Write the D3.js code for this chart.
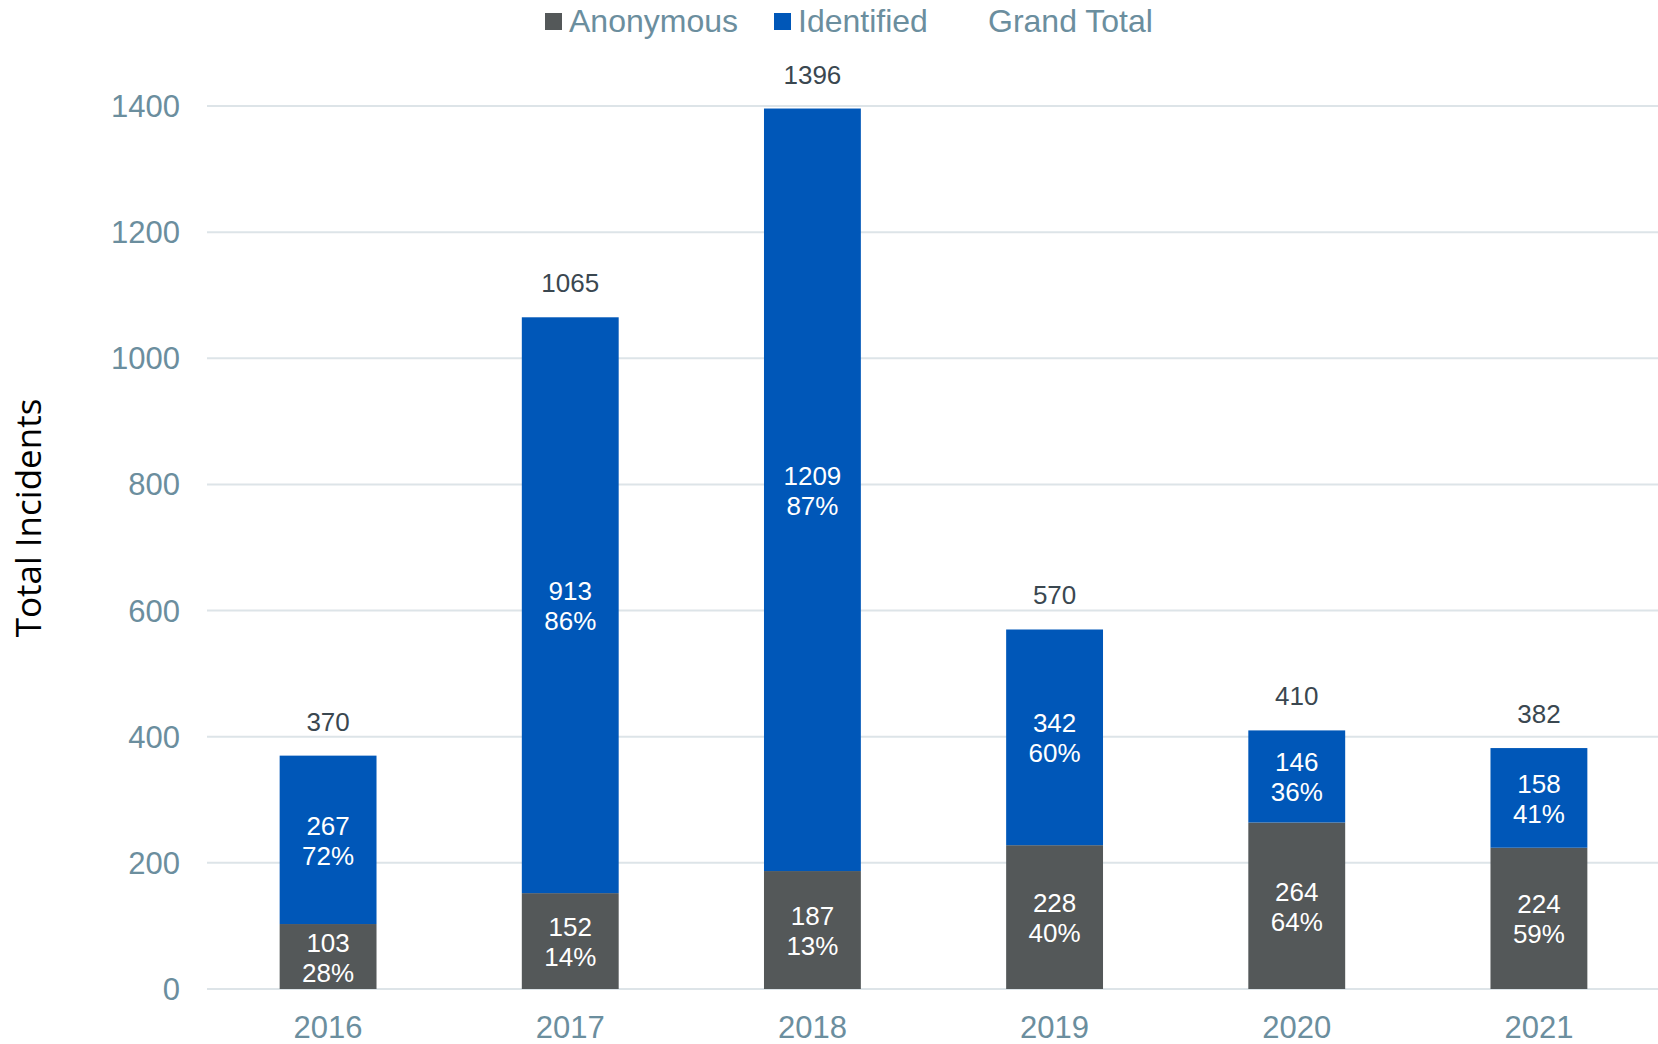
<!DOCTYPE html>
<html>
<head>
<meta charset="utf-8">
<script src="https://cdn.jsdelivr.net/npm/d3@7"></script>
<style>
  body { margin: 0; background: #fff; }
  svg { display: block; }
</style>
</head>
<body>
<div id="chart"></div>
<script>
// chart data
var years = ["2016", "2017", "2018", "2019", "2020", "2021"];
var anonymous = [103, 152, 187, 228, 264, 224];
var identified = [267, 913, 1209, 342, 146, 158];
var grandTotal = [370, 1065, 1396, 570, 410, 382];
var anonPct = ["28%", "14%", "13%", "40%", "64%", "59%"];
var identPct = ["72%", "86%", "87%", "60%", "36%", "41%"];
var yTicks = [0, 200, 400, 600, 800, 1000, 1200, 1400];

var grayFill = "#545859";
var blueFill = "#0057b8";
var axisText = "#6b8e9e";
var labelText = "#3a4750";
var gridColor = "#dde4e8";

const width = 1658, height = 1044;
const plotLeft = 207, plotRight = 1660, plotTop = 106, plotBottom = 989;

var svg = d3.select("#chart").append("svg")
  .attr("width", width)
  .attr("height", height);

var x = d3.scaleBand().domain(years).range([plotLeft, plotRight]).padding(0);
var y = d3.scaleLinear().domain([0, 1400]).range([plotBottom, plotTop]);
var barW = x.step() * 0.4;

// gridlines
svg.append("g").selectAll("line")
  .data(yTicks)
  .enter().append("line")
  .attr("x1", plotLeft).attr("x2", width)
  .attr("y1", d => y(d)).attr("y2", d => y(d))
  .attr("stroke", gridColor)
  .attr("stroke-width", 2);

// y tick labels
svg.append("g").selectAll("text")
  .data(yTicks)
  .enter().append("text")
  .attr("x", 180)
  .attr("y", d => y(d) + 11)
  .attr("text-anchor", "end")
  .attr("font-family", "Liberation Sans, Arial, sans-serif")
  .attr("font-size", 31)
  .attr("fill", axisText)
  .text(d => d);

// x labels
svg.append("g").selectAll("text")
  .data(years)
  .enter().append("text")
  .attr("x", d => x(d) + x.step() / 2)
  .attr("y", 1038)
  .attr("text-anchor", "middle")
  .attr("font-family", "Liberation Sans, Arial, sans-serif")
  .attr("font-size", 31)
  .attr("fill", axisText)
  .text(d => d);

// y title
svg.append("text")
  .attr("transform", "translate(41,518) rotate(-90)")
  .attr("text-anchor", "middle")
  .attr("font-family", "Open Sans, sans-serif")
  .attr("font-size", 35)
  .attr("fill", "#000")
  .text("Total Incidents");

var rows = years.map((yr, i) => ({
  year: yr, anon: anonymous[i], ident: identified[i], total: grandTotal[i],
  anonPct: anonPct[i], identPct: identPct[i]
}));

// anonymous segment
svg.append("g").selectAll("rect")
  .data(rows)
  .enter().append("rect")
  .attr("x", d => x(d.year) + (x.step() - barW) / 2)
  .attr("width", barW)
  .attr("y", d => y(d.anon))
  .attr("height", d => y(0) - y(d.anon))
  .attr("fill", grayFill);

// identified segment
svg.append("g").selectAll("rect")
  .data(rows)
  .enter().append("rect")
  .attr("x", d => x(d.year) + (x.step() - barW) / 2)
  .attr("width", barW)
  .attr("y", d => y(d.anon + d.ident))
  .attr("height", d => y(d.anon) - y(d.anon + d.ident))
  .attr("fill", blueFill);

// two-line label inside a segment
function segLabel(sel, lo, hi, val, pct) {
  var g = sel.append("g").selectAll("text")
    .data(rows)
    .enter().append("text")
    .attr("text-anchor", "middle")
    .attr("font-family", "Liberation Sans, Arial, sans-serif")
    .attr("font-size", 26)
    .attr("fill", "#fff");
  g.append("tspan")
    .attr("x", d => x(d.year) + x.step() / 2)
    .attr("y", d => (y(lo(d)) + y(hi(d))) / 2 - 5)
    .text(val);
  g.append("tspan")
    .attr("x", d => x(d.year) + x.step() / 2)
    .attr("y", d => (y(lo(d)) + y(hi(d))) / 2 + 25)
    .text(pct);
}
segLabel(svg, d => 0, d => d.anon, d => d.anon, d => d.anonPct);
segLabel(svg, d => d.anon, d => d.anon + d.ident, d => d.ident, d => d.identPct);

// grand total labels
svg.append("g").selectAll("text")
  .data(rows)
  .enter().append("text")
  .attr("x", d => x(d.year) + x.step() / 2)
  .attr("y", d => y(d.total) - 25)
  .attr("text-anchor", "middle")
  .attr("font-family", "Liberation Sans, Arial, sans-serif")
  .attr("font-size", 26)
  .attr("fill", labelText)
  .text(d => d.total);

// legend
var legend = [
  { name: "Anonymous", color: grayFill, x: 545 },
  { name: "Identified", color: blueFill, x: 774 },
  { name: "Grand Total", color: null, x: 964 }
];
var lg = svg.append("g").selectAll("g")
  .data(legend)
  .enter().append("g")
  .attr("transform", d => `translate(${d.x},0)`);
lg.filter(d => d.color)
  .append("rect")
  .attr("x", 0).attr("y", 13)
  .attr("width", 17).attr("height", 17)
  .attr("fill", d => d.color);
lg.append("text")
  .attr("x", 24)
  .attr("y", 32)
  .attr("font-family", "Liberation Sans, Arial, sans-serif")
  .attr("font-size", 32)
  .attr("fill", axisText)
  .text(d => d.name);
</script>
</body>
</html>
